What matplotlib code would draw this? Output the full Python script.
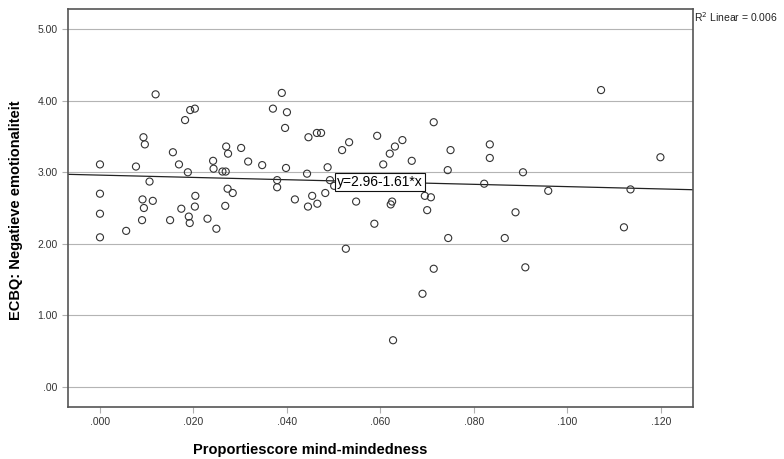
import numpy as np
import matplotlib
matplotlib.use('Agg')
import matplotlib.pyplot as plt
from matplotlib.ticker import FuncFormatter

plt.rcParams['font.family'] = ['Liberation Sans', 'DejaVu Sans']

# Proportiescore mind-mindedness (x) en ECBQ negatieve emotionaliteit (y)
mm_score = [
    0.000, 0.000, 0.000, 0.000, 0.0056, 0.0077, 0.0093, 0.0096, 0.0091, 0.0094,
    0.0090, 0.0106, 0.0113, 0.0119, 0.0150, 0.0156, 0.0169, 0.0174, 0.0182, 0.0188,
    0.0190, 0.0192, 0.0193, 0.0203, 0.0204, 0.0203, 0.0230, 0.0249, 0.0242, 0.0243,
    0.0262, 0.0269, 0.0270, 0.0274, 0.0273, 0.0284, 0.0268, 0.0302, 0.0317, 0.0347,
    0.0389, 0.0370, 0.0400, 0.0396, 0.0398, 0.0379, 0.0379, 0.0417, 0.0443, 0.0446,
    0.0464, 0.0473, 0.0454, 0.0445, 0.0465, 0.0482, 0.0487, 0.0492, 0.0501, 0.0518,
    0.0533, 0.0548, 0.0526, 0.0593, 0.0606, 0.0620, 0.0631, 0.0647, 0.0667, 0.0587,
    0.0622, 0.0625, 0.0695, 0.0708, 0.0700, 0.0714, 0.0714, 0.1072, 0.0750, 0.0744,
    0.0834, 0.0834, 0.0905, 0.0822, 0.0959, 0.0889, 0.0745, 0.0866, 0.0910, 0.0690,
    0.0627, 0.1199, 0.1135, 0.1121,
]
neg_emo = [
    3.11, 2.70, 2.42, 2.09, 2.18, 3.08, 3.49, 3.39, 2.62, 2.50,
    2.33, 2.87, 2.60, 4.09, 2.33, 3.28, 3.11, 2.49, 3.73, 3.00,
    2.38, 2.29, 3.87, 3.89, 2.67, 2.52, 2.35, 2.21, 3.16, 3.05,
    3.01, 3.01, 3.36, 3.26, 2.77, 2.71, 2.53, 3.34, 3.15, 3.10,
    4.11, 3.89, 3.84, 3.62, 3.06, 2.89, 2.79, 2.62, 2.98, 3.49,
    3.55, 3.55, 2.67, 2.52, 2.56, 2.71, 3.07, 2.89, 2.81, 3.31,
    3.42, 2.59, 1.93, 3.51, 3.11, 3.26, 3.36, 3.45, 3.16, 2.28,
    2.55, 2.59, 2.67, 2.65, 2.47, 3.70, 1.65, 4.15, 3.31, 3.03,
    3.39, 3.20, 3.00, 2.84, 2.74, 2.44, 2.08, 2.08, 1.67, 1.30,
    0.65, 3.21, 2.76, 2.23,
]

intercept = 2.96
slope = -1.61
r2_text = 'R$^2$ Linear = 0.006'

x_ticks = [0.0, 0.02, 0.04, 0.06, 0.08, 0.10, 0.12]
y_ticks = [0, 1, 2, 3, 4, 5]

fig = plt.figure(figsize=(7.84, 4.59), dpi=100)
ax = fig.add_axes([0.0871, 0.1139, 0.7964, 0.8665])

xmin, xmax = -0.00678, 0.1268
ax.set_xlim(xmin, xmax)
ax.set_ylim(-0.28, 5.284)

ax.set_yticks(y_ticks)
ax.set_xticks(x_ticks)
ax.yaxis.set_major_formatter(FuncFormatter(lambda v, p: ('%.2f' % v).lstrip('0') if v < 1 else '%.2f' % v))
ax.xaxis.set_major_formatter(FuncFormatter(lambda v, p: ('%.3f' % v).lstrip('0')))
ax.grid(axis='y', color='#b4b4b4', lw=0.8)
ax.set_axisbelow(True)
ax.tick_params(axis='both', labelsize=7.5, colors='#333333', length=4, width=0.8)
ax.tick_params(axis='both', color='#b0b0b0')
for s in ax.spines.values():
    s.set_color('#555555')
    s.set_linewidth(1.2)

# fit line
xs = np.array([xmin, xmax])
ax.plot(xs, intercept + slope * xs, color='#222222', lw=0.9, zorder=2)

ax.scatter(mm_score, neg_emo, s=26, facecolors='none', edgecolors='#333333',
           linewidths=0.8, zorder=3)

ax.text(0.0599, intercept + slope * 0.0599, 'y=2.96-1.61*x', fontsize=10,
        ha='center', va='center', zorder=4,
        bbox=dict(boxstyle='square,pad=0.12', fc='white', ec='#111111', lw=0.8))

fig.text(0.885, 0.962, r2_text, fontsize=7.5, ha='left', va='center', color='#222222')

fig.text(310 / 784, 1 - 450 / 459, 'Proportiescore mind-mindedness',
         fontsize=10.5, fontweight='bold', ha='center', va='center')
fig.text(16 / 784, 1 - 210 / 459, 'ECBQ: Negatieve emotionaliteit',
         fontsize=10.5, fontweight='bold', ha='center', va='center', rotation=90)

fig.savefig('out.png', dpi=100)
